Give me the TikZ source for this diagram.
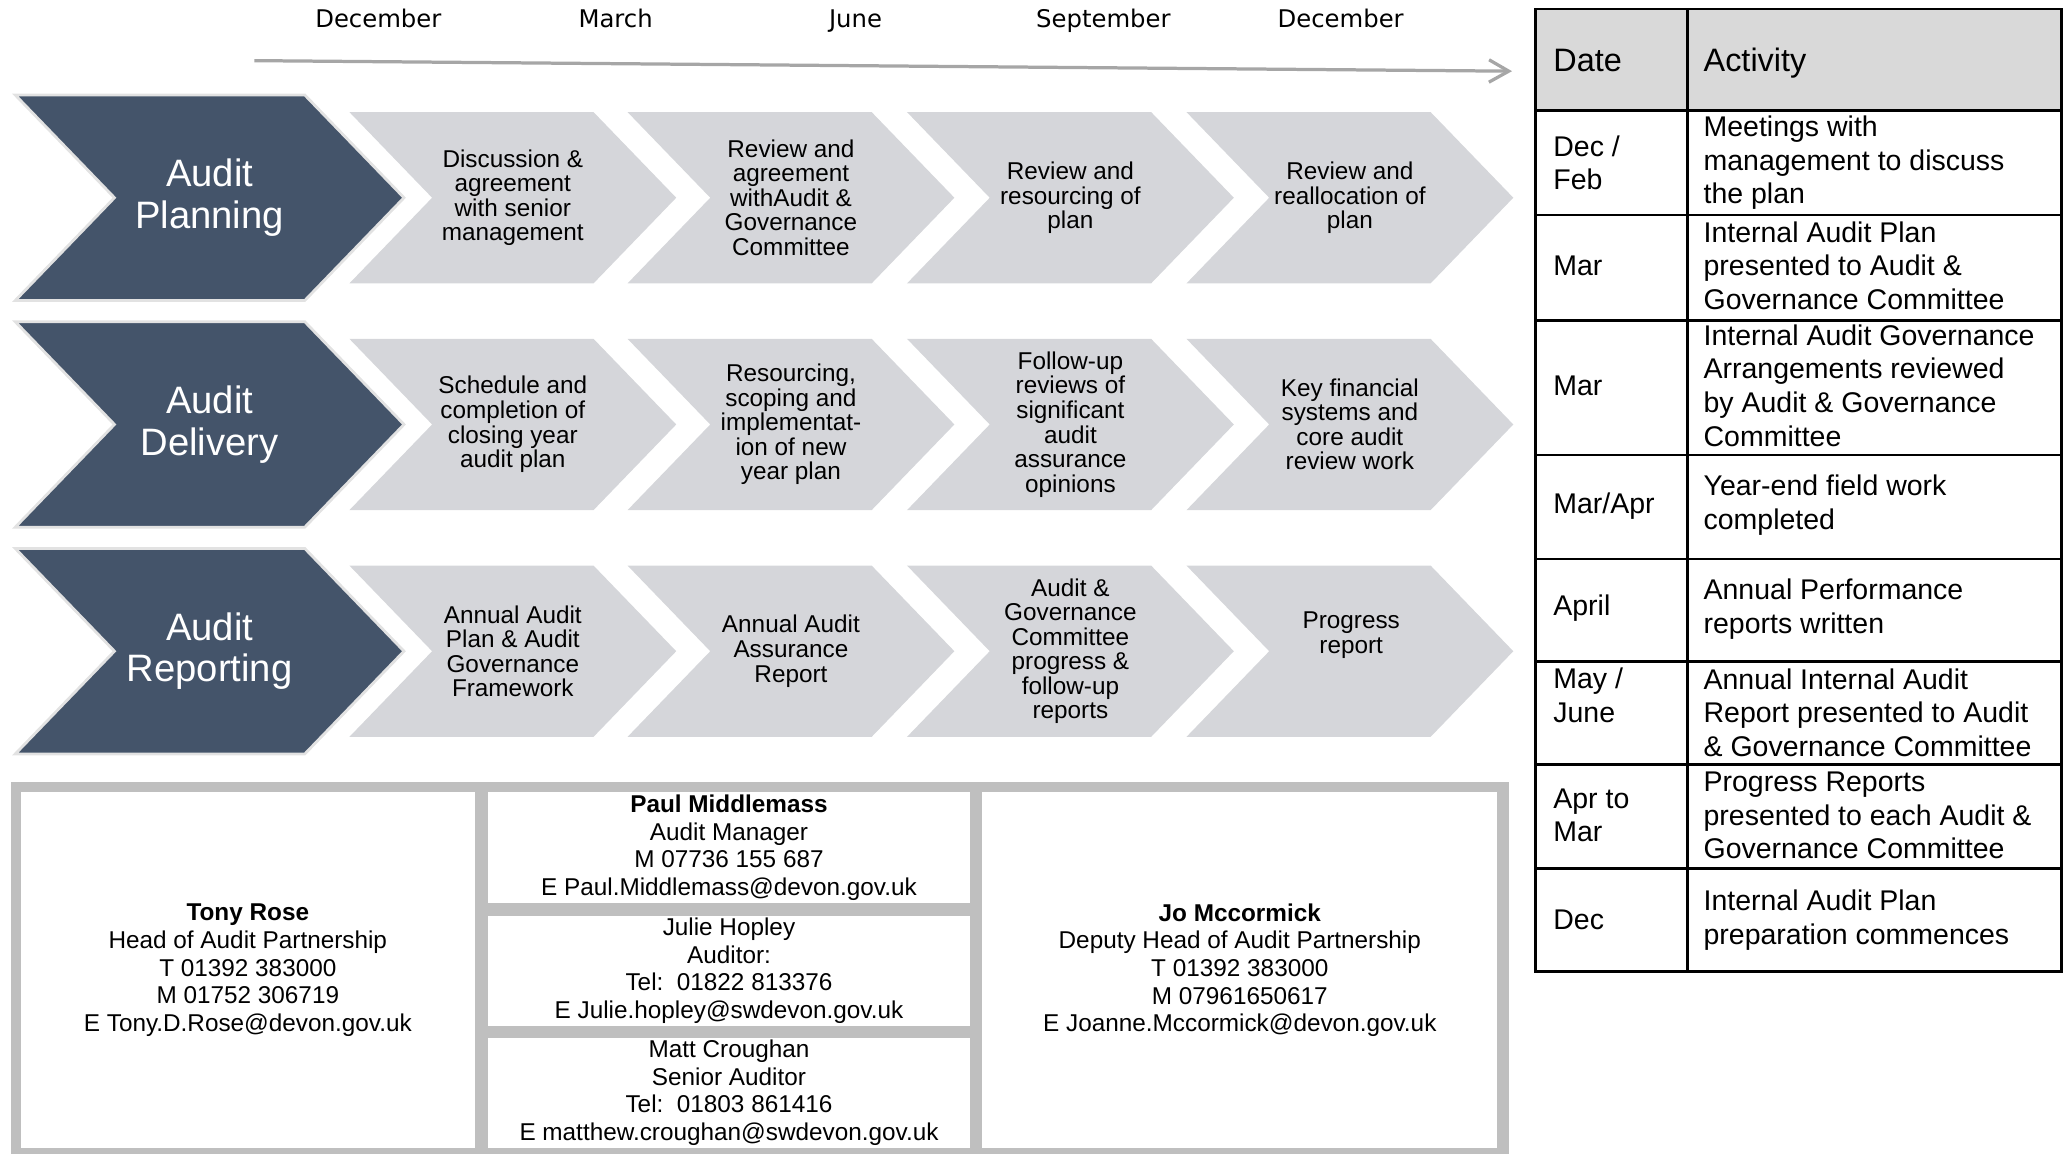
\documentclass[tikz,border=0pt]{standalone}
\usepackage{fontspec}
\setmainfont{Liberation Sans}
\newfontfamily\monthfont{DejaVu Sans}
\usepackage{tikz}
\usetikzlibrary{shapes.symbols,arrows.meta}
\definecolor{slate}{HTML}{44546A}
\definecolor{chevgray}{HTML}{D5D6DA}
\definecolor{rimgray}{HTML}{E2E2E2}
\definecolor{framegray}{HTML}{BFBFBF}
\definecolor{headgray}{HTML}{D9D9D9}
\definecolor{linegray}{HTML}{A6A6A6}

\begin{document}
\begin{tikzpicture}[x=0.02cm, y=-0.02cm,
    monthlbl/.style={font=\monthfont\fontsize{10.5}{12}\selectfont, anchor=base},
    phasebox/.style={signal, signal to=east, signal from=west, signal pointer angle=92,
      fill=slate, draw=rimgray, line width=1.2pt, text=white, align=center,
      minimum width=5.9cm, minimum height=3.12cm, inner sep=0pt,
      font=\fontsize{16.5}{18}\selectfont},
    stagebox/.style={signal, signal to=east, signal from=west, signal pointer angle=92,
      fill=chevgray, align=center, minimum width=4.96cm, minimum height=2.6cm,
      inner sep=0pt, font=\fontsize{10.5}{10.6}\selectfont},
    timeline/.style={draw=linegray, line width=1.4pt,
      -{Straight Barb[length=0.3cm,width=0.34cm]}},
    tablegrid/.style={draw=black, line width=1.1pt},
    headtxt/.style={anchor=base west, inner sep=0pt, font=\fontsize{14}{16}\selectfont},
    datetxt/.style={anchor=west, inner sep=0pt, align=left, font=\fontsize{12.3}{14.5}\selectfont},
    acttxt/.style={anchor=west, inner sep=0pt, align=left, font=\fontsize{12.3}{14.5}\selectfont},
    contact/.style={fill=white, inner sep=0pt, align=center, font=\fontsize{10.5}{11.9}\selectfont}]
    \useasboundingbox (0, 0) rectangle (1568, 875);

    \node[monthlbl] (m1) at (287, 21) {December};
    \node[monthlbl] (m2) at (467, 21) {March};
    \node[monthlbl] (m3) at (649, 21) {June};
    \node[monthlbl] (m4) at (837, 21) {September};
    \node[monthlbl] (m5) at (1017, 21) {December};

    \coordinate (tstart) at (193, 46);
    \coordinate (tend) at (1147, 54);
    \draw[timeline] (tstart) -- (tend);

    \node[phasebox] (plan) at (159, 150) {Audit\\Planning};
    \node[phasebox] (deliv) at (159, 322) {Audit\\Delivery};
    \node[phasebox] (rep) at (159, 494) {Audit\\Reporting};

    \node[stagebox] (p1) at (389, 150) {Discussion \&\\agreement\\with senior\\management};
    \node[stagebox] (p2) at (600, 150) {Review and\\agreement\\withAudit \&\\Governance\\Committee};
    \node[stagebox] (p3) at (812, 150) {Review and\\resourcing of\\plan};
    \node[stagebox] (p4) at (1024, 150) {Review and\\reallocation of\\plan};

    \node[stagebox] (d1) at (389, 322) {Schedule and\\completion of\\closing year\\audit plan};
    \node[stagebox] (d2) at (600, 322) {Resourcing,\\scoping and\\implementat-\\ion of new\\year plan};
    \node[stagebox] (d3) at (812, 322) {Follow-up\\reviews of\\significant\\audit\\assurance\\opinions};
    \node[stagebox] (d4) at (1024, 322) {Key financial\\systems and\\core audit\\review work};

    \node[stagebox] (r1) at (389, 494) {Annual Audit\\Plan \& Audit\\Governance\\Framework};
    \node[stagebox] (r2) at (600, 494) {Annual Audit\\Assurance\\Report};
    \node[stagebox] (r3) at (812, 494) {Audit \&\\Governance\\Committee\\progress \&\\follow-up\\reports};
    \node[stagebox] (r4) at (1024, 494) {};
    \node[align=center, inner sep=0pt, font=\fontsize{10.5}{10.6}\selectfont] (r4txt) at (1025, 482) {Progress\\report};

    \fill[headgray] (1165, 7) rectangle (1564, 84);
    \draw[tablegrid] (1165, 7) rectangle (1564, 737);
    \draw[tablegrid] (1280, 7) -- (1280, 737);
    \draw[tablegrid] (1165, 84) -- (1564, 84) (1165, 163) -- (1564, 163)
      (1165, 243) -- (1564, 243) (1165, 345) -- (1564, 345)
      (1165, 424) -- (1564, 424) (1165, 502) -- (1564, 502)
      (1165, 580) -- (1564, 580) (1165, 659) -- (1564, 659);

    \node[headtxt] (hdate) at (1178, 54) {Date};
    \node[headtxt] (hact) at (1292, 54) {Activity};
    \node[datetxt] (t1) at (1178, 123.5) {Dec /\\Feb};
    \node[acttxt] (a1) at (1292, 123.5) {Meetings with\\management to discuss\\the plan};
    \node[datetxt] (t2) at (1178, 202) {Mar};
    \node[acttxt] (a2) at (1292, 201.5) {Internal Audit Plan\\presented to Audit \&\\Governance Committee};
    \node[datetxt] (t3) at (1178, 293) {Mar};
    \node[acttxt] (a3) at (1292, 292.5) {Internal Audit Governance\\Arrangements reviewed\\by Audit \& Governance\\Committee};
    \node[datetxt] (t4) at (1178, 384) {Mar/Apr};
    \node[acttxt] (a4) at (1292, 383) {Year-end field work\\completed};
    \node[datetxt] (t5) at (1178, 461) {April};
    \node[acttxt] (a5) at (1292, 462) {Annual Performance\\reports written};
    \node[datetxt] (t6) at (1178, 527.5) {May /\\June};
    \node[acttxt] (a6) at (1292, 540.5) {Annual Internal Audit\\Report presented to Audit\\\& Governance Committee};
    \node[datetxt] (t7) at (1178, 618.5) {Apr to\\Mar};
    \node[acttxt] (a7) at (1292, 618.5) {Progress Reports\\presented to each Audit \&\\Governance Committee};
    \node[datetxt] (t8) at (1178, 698) {Dec};
    \node[acttxt] (a8) at (1292, 698) {Internal Audit Plan\\preparation commences};

    \fill[framegray] (8, 593) rectangle (1145, 880);
    \node[contact, minimum width=6.88cm, minimum height=5.4cm] (tony) at (188, 736)
      {\textbf{Tony Rose}\\Head of Audit Partnership\\T 01392 383000\\M 01752 306719\\E Tony.D.Rose@devon.gov.uk};
    \node[contact, minimum width=7.32cm, minimum height=1.68cm] (paul) at (553, 643)
      {\textbf{Paul Middlemass}\\Audit Manager\\M 07736 155 687\\E Paul.Middlemass@devon.gov.uk};
    \node[contact, minimum width=7.32cm, minimum height=1.66cm] (julie) at (553, 736.5)
      {Julie Hopley\\Auditor:\\Tel:\ \ 01822 813376\\E Julie.hopley@swdevon.gov.uk};
    \node[contact, minimum width=7.32cm, minimum height=1.67cm] (matt) at (553, 829)
      {Matt Croughan\\Senior Auditor\\Tel:\ \ 01803 861416\\E matthew.croughan@swdevon.gov.uk};
    \node[contact, minimum width=7.82cm, minimum height=5.4cm] (jo) at (940.5, 736)
      {\textbf{Jo Mccormick}\\Deputy Head of Audit Partnership\\T 01392 383000\\M 07961650617\\E Joanne.Mccormick@devon.gov.uk};
\end{tikzpicture}
\end{document}
